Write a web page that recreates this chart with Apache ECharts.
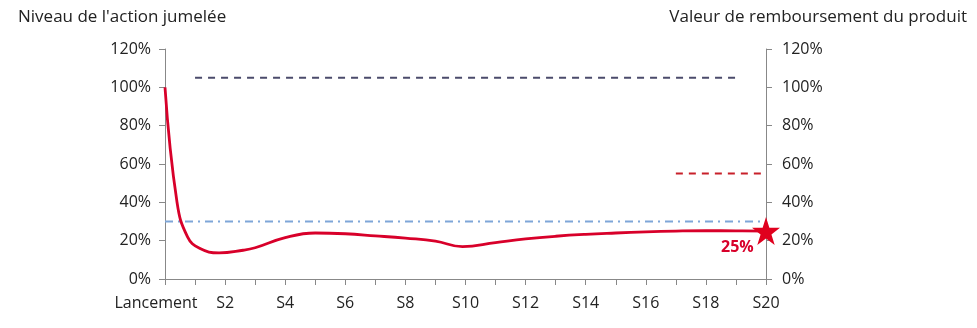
<!DOCTYPE html>
<html><head><meta charset="utf-8">
<script src="https://cdn.jsdelivr.net/npm/echarts@6/dist/echarts.min.js"></script>
<style>html,body{margin:0;padding:0;background:#fff}#c{width:977px;height:328px}</style>
</head><body><div id="c"></div>
<script>
const categories = ['Lancement','S1','S2','S3','S4','S5','S6','S7','S8','S9','S10','S11','S12','S13','S14','S15','S16','S17','S18','S19','S20'];
// action level (x in weeks since launch)
const actionWeeks = [0, 0.4, 0.75, 1.15, 1.8, 2.6, 3, 4, 5, 6, 7, 8, 9, 9.9, 11, 12, 13, 14, 15, 16, 17, 18, 19, 20];
const actionLevel = [100, 40, 22, 16, 13.6, 15, 16.3, 21.6, 24, 23.6, 22.5, 21.3, 19.8, 16.9, 19, 20.9, 22.3, 23.3, 24, 24.6, 25, 25.2, 25.1, 25];
const upperBarrier = [null,105,105,105,105,105,105,105,105,105,105,105,105,105,105,105,105,105,105,105,null];
const redLevel = [null,null,null,null,null,null,null,null,null,null,null,null,null,null,null,null,null,55,55,55,55];
const blueBarrier = [30,30,30,30,30,30,30,30,30,30,30,30,30,30,30,30,30,30,30,30,30];
const finalPoint = [null,null,null,null,null,null,null,null,null,null,null,null,null,null,null,null,null,null,null,null,25];
const leftTitle = "Niveau de l'action jumelée";
const rightTitle = 'Valeur de remboursement du produit';
const font = '"Open Sans", sans-serif';
const byIndex = arr => arr.map((v, i) => [i, v]);
const chart = echarts.init(document.getElementById('c'));
function buildOption() {
  const yAxisBase = {
    type:'value', min:0, max:120, interval:20,
    axisLine:{show:true, lineStyle:{color:'#888'}},
    axisTick:{show:true, length:6, lineStyle:{color:'#888'}},
    splitLine:{show:false},
    axisLabel:{formatter: v => v + '%', color:'#222', fontSize:16, fontFamily:font}
  };
  return {
    animation:false,
    textStyle:{fontFamily:font},
    graphic:[
      {type:'text', x:18, y:17, style:{text:leftTitle, fill:'#222', font:'17px ' + font, textAlign:'left', textVerticalAlign:'middle'}},
      {type:'text', x:967, y:17, style:{text:rightTitle, fill:'#222', font:'17px ' + font, textAlign:'right', textVerticalAlign:'middle'}}
    ],
    grid:{left:165, right:211, top:49, bottom:49},
    xAxis:{
      type:'value', min:0, max:categories.length - 1, interval:1,
      axisLine:{onZero:false, lineStyle:{color:'#888'}},
      axisTick:{show:true, length:6, lineStyle:{color:'#888'}},
      splitLine:{show:false},
      axisLabel:{
        formatter: v => (v === 0 ? '{first|' + categories[v] + '}' : (v % 2 === 0 ? categories[v] : '')),
        rich:{first:{padding:[0,18,0,0], fontSize:16, color:'#222', fontFamily:font}},
        color:'#222', fontSize:16, fontFamily:font, margin:16, showMinLabel:true, showMaxLabel:true
      }
    },
    yAxis:[
      Object.assign({}, yAxisBase, {position:'left', axisLabel:Object.assign({}, yAxisBase.axisLabel, {margin:14})}),
      Object.assign({}, yAxisBase, {position:'right', axisLabel:Object.assign({}, yAxisBase.axisLabel, {margin:16})})
    ],
    series:[
      {type:'line', data:byIndex(blueBarrier), symbol:'none', lineStyle:{color:'#7ea6d8', width:2, type:[8,5,2,5]}, z:2},
      {type:'line', data:byIndex(upperBarrier), symbol:'none', lineStyle:{color:'#4b4b6b', width:2, type:[7,6]}, z:2},
      {type:'line', data:byIndex(redLevel), symbol:'none', lineStyle:{color:'#c8202a', width:2, type:[7,6]}, z:2},
      {type:'line', data:actionWeeks.map((w, i) => [w, actionLevel[i]]), symbol:'none', smooth:0.45, lineStyle:{color:'#d8002a', width:2.8}, z:3},
      {type:'scatter', data:byIndex(finalPoint).filter(d => d[1] !== null), symbol:'path://M50,0 L61.8,35.3 L99,35.3 L69,57.6 L80.4,93 L50,71 L19.6,93 L31,57.6 L1,35.3 L38.2,35.3 Z', symbolSize:28, itemStyle:{color:'#e0001e', opacity:1}, z:4,
        label:{show:true, formatter: p => p.value[1] + '%', position:[-31,22], color:'#d8002a', fontWeight:'bold', fontSize:16, fontFamily:font}}
    ]
  };
}
chart.setOption(buildOption());
if (document.fonts && document.fonts.load) {
  Promise.all([document.fonts.load('16px "Open Sans"'), document.fonts.load('bold 16px "Open Sans"')]).then(() => {
    chart.clear();
    chart.setOption(buildOption(), true);
  });
}
</script></body></html>
